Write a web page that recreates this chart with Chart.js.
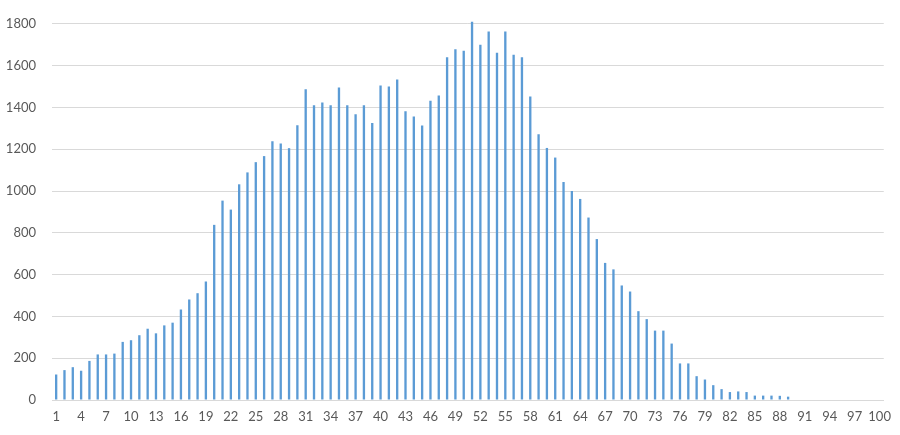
<!DOCTYPE html>
<html>
<head>
<meta charset="utf-8">
<script src="https://cdn.jsdelivr.net/npm/chart.js@4"></script>
<style>
  html, body { margin: 0; padding: 0; background: #fff; }
  #wrap { width: 900px; height: 435px; }
</style>
</head>
<body>
<div id="wrap"><canvas id="chart" width="900" height="435"></canvas></div>
<script>
// categories 1..100
const categories = [
  1, 2, 3, 4, 5, 6, 7, 8, 9, 10, 11, 12, 13, 14, 15, 16, 17, 18, 19, 20,
  21, 22, 23, 24, 25, 26, 27, 28, 29, 30, 31, 32, 33, 34, 35, 36, 37, 38, 39, 40,
  41, 42, 43, 44, 45, 46, 47, 48, 49, 50, 51, 52, 53, 54, 55, 56, 57, 58, 59, 60,
  61, 62, 63, 64, 65, 66, 67, 68, 69, 70, 71, 72, 73, 74, 75, 76, 77, 78, 79, 80,
  81, 82, 83, 84, 85, 86, 87, 88, 89, 90, 91, 92, 93, 94, 95, 96, 97, 98, 99, 100
];

// counts
const counts = [
  122, 143, 157, 140, 187, 218, 218, 222, 278, 286,
  310, 341, 319, 357, 370, 433, 481, 511, 567, 838,
  954, 911, 1032, 1089, 1138, 1167, 1238, 1227, 1205, 1314,
  1487, 1410, 1424, 1410, 1495, 1410, 1367, 1410, 1325, 1505,
  1500, 1533, 1381, 1356, 1313, 1432, 1457, 1640, 1678, 1671,
  1810, 1700, 1763, 1662, 1763, 1652, 1640, 1452, 1271, 1206,
  1160, 1043, 1000, 962, 873, 770, 656, 625, 548, 519,
  425, 387, 332, 332, 270, 175, 175, 114, 98, 71,
  52, 38, 41, 38, 21, 21, 21, 20, 16, 0,
  0, 0, 0, 0, 0, 0, 0, 0, 0, 0
];

const yTicks = [0, 200, 400, 600, 800, 1000, 1200, 1400, 1600, 1800];

const textColor = '#595959';
const gridColor = '#d9d9d9';

new Chart(document.getElementById('chart').getContext('2d'), {
  type: 'bar',
  data: {
    labels: categories,
    datasets: [{
      data: counts,
      backgroundColor: '#5b9bd5',
      barPercentage: 0.28,
      categoryPercentage: 1.0,
      clip: false
    }]
  },
  options: {
    responsive: false,
    animation: false,
    layout: { padding: { top: 14, right: 15, left: 0, bottom: 0 } },
    plugins: {
      legend: { display: false },
      tooltip: { enabled: false }
    },
    scales: {
      x: {
        offset: true,
        grid: { display: false, drawTicks: false },
        border: { display: true, color: gridColor, width: 1 },
        ticks: {
          autoSkip: false,
          maxRotation: 0,
          padding: 9,
          color: textColor,
          font: { family: 'Lato', size: 13 },
          callback: (val, i) => (i % 3 === 0 ? String(categories[i]) : '')
        },
        afterFit: s => { s.height = 35; }
      },
      y: {
        min: 0,
        max: yTicks[yTicks.length - 1],
        afterBuildTicks: s => { s.ticks = yTicks.map(v => ({ value: v })); },
        grid: { color: gridColor, drawTicks: false },
        border: { display: false },
        ticks: {
          padding: 16,
          color: textColor,
          font: { family: 'Lato', size: 13 },
          callback: v => String(v)
        },
        afterFit: s => { s.width = 52; }
      }
    }
  }
});
</script>
</body>
</html>
